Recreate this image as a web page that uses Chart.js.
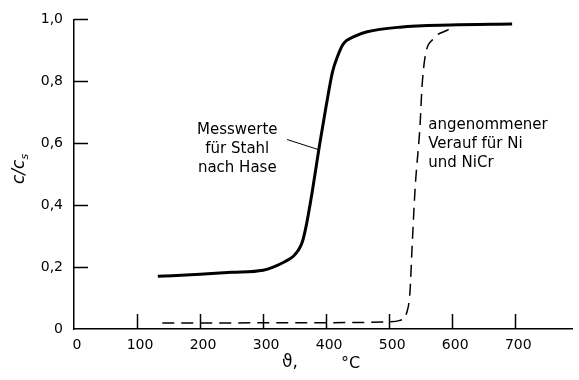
<!DOCTYPE html>
<html>
<head>
<meta charset="utf-8">
<script src="https://cdn.jsdelivr.net/npm/chart.js@4.4.1/dist/chart.umd.min.js"></script>
<style>
html,body{margin:0;padding:0;background:#fff;}
#wrap{width:579px;height:380px;position:relative;}
</style>
</head>
<body>
<div id="wrap"><canvas id="c"></canvas></div>
<script>
// ---- data ----
const steelX = [133, 200, 250, 300, 316, 335, 348, 356, 362, 368, 376, 390, 400, 410, 418, 427, 445, 465, 517, 597, 695];
const steelY = [0.17, 0.177, 0.183, 0.19, 0.2, 0.218, 0.235, 0.255, 0.28, 0.33, 0.42, 0.6, 0.72, 0.83, 0.88, 0.92, 0.945, 0.96, 0.975, 0.982, 0.985];
const niX = [140, 300, 450, 500, 517, 528, 533, 536, 541, 549, 552, 557, 570, 592, 604];
const niY = [0.019, 0.02, 0.021, 0.023, 0.028, 0.054, 0.12, 0.25, 0.45, 0.66, 0.78, 0.88, 0.937, 0.965, 0.976];
const xTickValues = [0, 100, 200, 300, 400, 500, 600, 700];
const yTickValues = [0, 0.2, 0.4, 0.6, 0.8, 1.0];
const steelLabel = ['Messwerte', 'für Stahl', 'nach Hase'];
const niLabel = ['angenommener', 'Verauf für Ni', 'und NiCr'];

const toPts = (xs, ys) => xs.map((x, i) => ({x: x, y: ys[i]}));
const FONT = '"DejaVu Sans", sans-serif';

const decor = {
  id: 'decor',
  afterDatasetsDraw(chart) {
    const ctx = chart.ctx;
    const xs = chart.scales.x, ys = chart.scales.y;
    const ca = chart.chartArea;
    ctx.save();
    ctx.strokeStyle = '#000';
    ctx.lineWidth = 1.5;
    // inward ticks
    xTickValues.forEach(v => {
      if (v === 0) return;
      const px = Math.round(xs.getPixelForValue(v)) + 0.5;
      ctx.beginPath(); ctx.moveTo(px, ca.bottom); ctx.lineTo(px, ca.bottom - 15); ctx.stroke();
    });
    yTickValues.forEach(v => {
      if (v === 0) return;
      const py = Math.round(ys.getPixelForValue(v)) + 0.5;
      ctx.beginPath(); ctx.moveTo(ca.left, py); ctx.lineTo(ca.left + 14, py); ctx.stroke();
    });
    // leader line
    ctx.lineWidth = 1;
    ctx.beginPath();
    ctx.moveTo(xs.getPixelForValue(338), ys.getPixelForValue(0.612));
    ctx.lineTo(xs.getPixelForValue(387), ys.getPixelForValue(0.58));
    ctx.stroke();
    // annotations
    ctx.fillStyle = '#000';
    ctx.font = '15px ' + FONT;
    ctx.textBaseline = 'middle';
    ctx.textAlign = 'center';
    const sx = xs.getPixelForValue(259);
    steelLabel.forEach((t, i) => ctx.fillText(t, sx, ys.getPixelForValue(0.641) + i * 19));
    ctx.textAlign = 'left';
    const nx = xs.getPixelForValue(562);
    niLabel.forEach((t, i) => ctx.fillText(t, nx, ys.getPixelForValue(0.658) + i * 19));
    // x axis title
    ctx.font = '17px ' + FONT;
    ctx.textBaseline = 'alphabetic';
    ctx.fillText('\u03D1,', 282, 367);
    ctx.font = '16px ' + FONT;
    ctx.fillText('\u00B0C', 341, 368);
    // y axis title c/c_s
    ctx.translate(24, 184);
    ctx.rotate(-Math.PI / 2);
    ctx.font = 'italic 17px ' + FONT;
    ctx.textAlign = 'left';
    ctx.fillText('c/c', 0, 0);
    const w = ctx.measureText('c/c').width;
    ctx.font = 'italic 11px ' + FONT;
    ctx.fillText('s', w, 4);
    ctx.restore();
  }
};

new Chart(document.getElementById('c'), {
  type: 'line',
  data: {
    datasets: [
      {data: toPts(steelX, steelY), borderColor: '#000', borderWidth: 3, pointRadius: 0,
       cubicInterpolationMode: 'monotone', fill: false},
      {data: toPts(niX, niY), borderColor: '#000', borderWidth: 1.5, borderDash: [12, 7], pointRadius: 0,
       cubicInterpolationMode: 'monotone', fill: false}
    ]
  },
  options: {
    responsive: true,
    maintainAspectRatio: false,
    animation: false,
    layout: {padding: {top: 12, right: 7, left: 0, bottom: 0}},
    plugins: {legend: {display: false}, tooltip: {enabled: false}},
    scales: {
      x: {
        type: 'linear', min: 0, max: 790,
        afterBuildTicks: s => { s.ticks = xTickValues.map(v => ({value: v})); },
        afterFit: s => { s.height = 51; },
        grid: {display: false, drawTicks: false},
        border: {display: true, color: '#000', width: 1.5},
        ticks: {color: '#000', font: {family: FONT, size: 14}, padding: 8, labelOffset: 3, maxRotation: 0,
                callback: v => String(v)}
      },
      y: {
        type: 'linear', min: 0, max: 1,
        afterBuildTicks: s => { s.ticks = yTickValues.map(v => ({value: v})); },
        afterFit: s => { s.width = 74; },
        grid: {display: false, drawTicks: false},
        border: {display: true, color: '#000', width: 1.5},
        ticks: {color: '#000', font: {family: FONT, size: 14}, padding: 11,
                callback: v => v === 0 ? '0' : v.toFixed(1).replace('.', ',')}
      }
    }
  },
  plugins: [decor]
});
</script>
</body>
</html>
